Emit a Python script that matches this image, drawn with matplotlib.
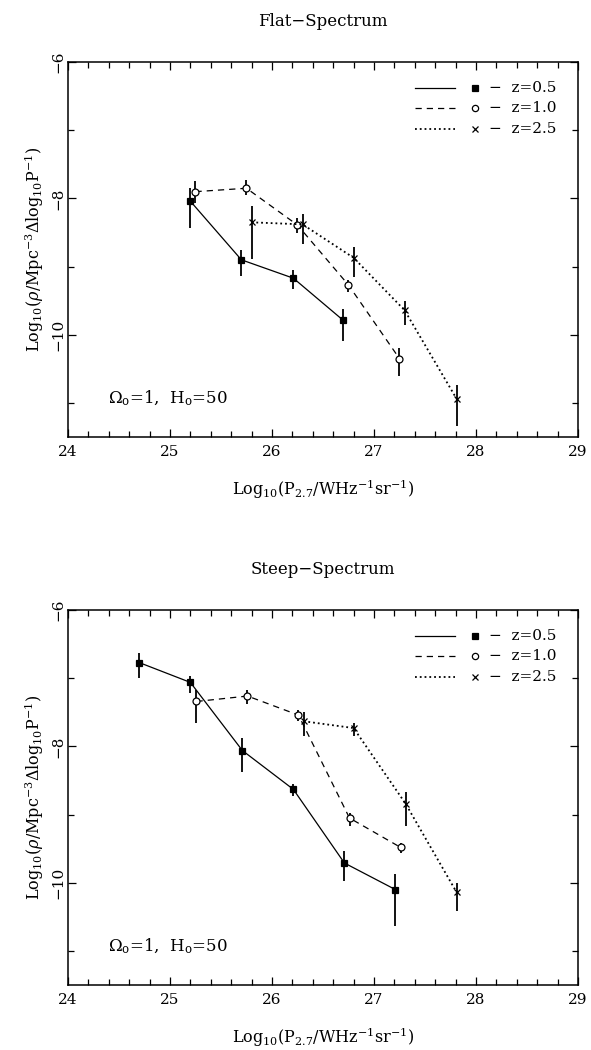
import matplotlib
matplotlib.use('Agg')
import matplotlib.pyplot as plt
from matplotlib.ticker import MultipleLocator

plt.rcParams['font.family'] = ['DejaVu Serif']
plt.rcParams['mathtext.fontset'] = 'dejavuserif'

# 红移标签
z_labels = ['z=0.5', 'z=1.0', 'z=2.5']

# Flat-Spectrum 数据 (x, y, 下误差, 上误差)
flat_x_05 = [25.20, 25.70, 26.21, 26.70]
flat_y_05 = [-8.04, -8.90, -9.17, -9.79]
flat_lo_05 = [0.39, 0.24, 0.16, 0.30]
flat_hi_05 = [0.19, 0.15, 0.12, 0.17]

flat_x_10 = [25.25, 25.75, 26.25, 26.75, 27.25]
flat_y_10 = [-7.90, -7.85, -8.39, -9.27, -10.35]
flat_lo_10 = [0.17, 0.10, 0.12, 0.10, 0.25]
flat_hi_10 = [0.15, 0.12, 0.10, 0.07, 0.15]

flat_x_25 = [25.80, 26.30, 26.80, 27.30, 27.81]
flat_y_25 = [-8.35, -8.38, -8.87, -9.64, -10.94]
flat_lo_25 = [0.54, 0.29, 0.28, 0.21, 0.40]
flat_hi_25 = [0.24, 0.15, 0.16, 0.13, 0.21]

# Steep-Spectrum 数据
steep_x_05 = [24.70, 25.20, 25.71, 26.21, 26.71, 27.21]
steep_y_05 = [-6.77, -7.06, -8.06, -8.63, -9.71, -10.10]
steep_lo_05 = [0.22, 0.15, 0.31, 0.10, 0.26, 0.54]
steep_hi_05 = [0.14, 0.10, 0.18, 0.08, 0.17, 0.23]

steep_x_10 = [25.26, 25.76, 26.26, 26.76, 27.26]
steep_y_10 = [-7.34, -7.26, -7.54, -9.05, -9.48]
steep_lo_10 = [0.32, 0.11, 0.09, 0.12, 0.09]
steep_hi_10 = [0.17, 0.09, 0.08, 0.08, 0.07]

steep_x_25 = [26.31, 26.80, 27.31, 27.81]
steep_y_25 = [-7.63, -7.73, -8.84, -10.14]
steep_lo_25 = [0.21, 0.11, 0.33, 0.27]
steep_hi_25 = [0.13, 0.07, 0.17, 0.14]

titles = ['Flat\u2212Spectrum', 'Steep\u2212Spectrum']

styles = [
    dict(ls='-', marker='s', mfc='black', ms=4.5, lw=0.9),
    dict(ls='--', dashes=(5, 4), marker='o', mfc='white', ms=5, lw=0.9),
    dict(ls=':', marker='x', mfc='black', ms=4.5, lw=1.3),
]

fig = plt.figure(figsize=(5.91, 10.5), dpi=100)
ax1 = fig.add_axes([0.115, 0.5838, 0.863, 0.357])
ax2 = fig.add_axes([0.115, 0.0619, 0.863, 0.357])

panels = [
    (ax1, [(flat_x_05, flat_y_05, flat_lo_05, flat_hi_05),
           (flat_x_10, flat_y_10, flat_lo_10, flat_hi_10),
           (flat_x_25, flat_y_25, flat_lo_25, flat_hi_25)]),
    (ax2, [(steep_x_05, steep_y_05, steep_lo_05, steep_hi_05),
           (steep_x_10, steep_y_10, steep_lo_10, steep_hi_10),
           (steep_x_25, steep_y_25, steep_lo_25, steep_hi_25)]),
]

for k, (ax, series) in enumerate(panels):
    for (x, y, lo, hi), st in zip(series, styles):
        ax.errorbar(x, y, yerr=[lo, hi], fmt='none', ecolor='black',
                    elinewidth=1.3, capsize=0)
        ax.plot(x, y, color='black', mec='black', mew=0.9, **st)

    ax.set_xlim(24, 29)
    ax.set_ylim(-11.5, -6)
    ax.xaxis.set_major_locator(MultipleLocator(1))
    ax.xaxis.set_minor_locator(MultipleLocator(0.2))
    ax.yaxis.set_major_locator(MultipleLocator(2))
    ax.yaxis.set_minor_locator(MultipleLocator(1))
    ax.tick_params(which='both', direction='in', top=True, right=True,
                   width=0.9, color='black')
    ax.tick_params(which='major', length=6, labelsize=11)
    ax.tick_params(which='minor', length=4)
    ax.tick_params(axis='x', pad=6)
    ax.tick_params(axis='y', pad=2)
    for lab in ax.get_yticklabels():
        lab.set_rotation(90)
        lab.set_va('center')
    for sp in ax.spines.values():
        sp.set_linewidth(1.1)

    ax.set_xlabel(r'Log$_{10}$(P$_{2.7}$/WHz$^{-1}$sr$^{-1}$)', fontsize=11.5,
                  labelpad=13)
    ax.set_ylabel(r'Log$_{10}$($\rho$/Mpc$^{-3}$$\Delta$log$_{10}$P$^{-1}$)',
                  fontsize=11.5, labelpad=4)
    ax.set_title(titles[k], fontsize=12, pad=26)

    # 图例 (手工绘制)
    for i, st in enumerate(styles):
        yy = 0.931 - i * 0.054
        ax.plot([0.680, 0.759], [yy, yy], transform=ax.transAxes,
                color='black', lw=st['lw'], ls=st['ls'],
                **({'dashes': st['dashes']} if 'dashes' in st else {}))
        ax.plot([0.798], [yy], transform=ax.transAxes, ls='none',
                marker=st['marker'], mfc=st['mfc'], mec='black', mew=0.9,
                ms=st['ms'] - 0.5)
        ax.text(0.825, yy, '\u2212  ' + z_labels[i], transform=ax.transAxes,
                fontsize=11, va='center', ha='left')

    ax.text(0.078, 0.104, r'$\Omega_{\rm o}$=1,  H$_{\rm o}$=50',
            transform=ax.transAxes, fontsize=12, va='center', ha='left')

fig.savefig('out.png', dpi=100)
